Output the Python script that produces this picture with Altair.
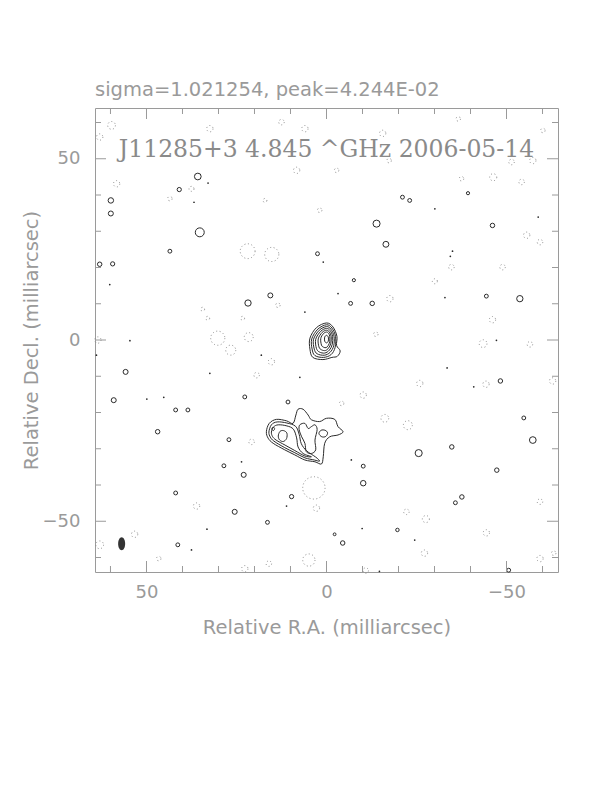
import altair as alt
import pandas as pd

X_DOMAIN = [-64.3, 64.3]
Y_DOMAIN = [-64.0, 64.0]

# core contours (outer -> inner), points as (RA, Dec)
core_c1 = [(0, 4.7), (2.8, 3.4), (4.6, 0.5), (4.6, -2.5), (3.8, -4.8), (1.0, -5.4), (-1.5, -4.8),
           (-3.0, -4.5), (-3.8, -3.0), (-2.8, -1.5), (-2.9, 1.0), (-1.8, 3.6)]
core_c2 = [(0, 4.2), (2.4, 3.0), (4.1, 0.3), (4.0, -2.5), (3.2, -4.3), (0.8, -4.8), (-1.3, -4.0),
           (-2.4, -2.0), (-2.5, 1.0), (-1.5, 3.3)]
core_c3 = [(0, 3.7), (2.0, 2.7), (3.6, 0.2), (3.4, -2.5), (2.6, -3.8), (0.6, -4.2), (-1.0, -3.4),
           (-2.0, -1.6), (-2.1, 1.0), (-1.2, 3.0)]
core_c4 = [(0, 3.2), (1.6, 2.4), (3.0, 0.2), (2.8, -2.3), (2.0, -3.3), (0.5, -3.6), (-0.8, -2.8),
           (-1.6, -1.2), (-1.7, 1.0), (-1.0, 2.6)]
core_c5 = [(0, 2.7), (1.2, 2.1), (2.3, 0.3), (2.1, -1.9), (1.4, -2.7), (0.3, -2.9), (-0.6, -2.2),
           (-1.2, -0.9), (-1.3, 1.0), (-0.8, 2.2)]
core_c6 = [(0, 2.2), (0.9, 1.7), (1.6, 0.4), (1.4, -1.4), (0.8, -2.0), (0.1, -2.1), (-0.5, -1.5),
           (-0.9, -0.4), (-0.9, 1.0), (-0.6, 1.8)]
core_c7 = [(0, 1.3), (0.5, 0.8), (0.5, -0.3), (0, -0.8), (-0.5, -0.3), (-0.5, 0.8)]

# jet component contours
jet_c1 = [(16.7, -25.3), (15.9, -23.0), (13.9, -21.9), (11.1, -22.3), (9.3, -23.0), (8.5, -20.7),
          (7.9, -19.1), (6.5, -19.1), (5.1, -20.7), (4.2, -22.0), (1.9, -22.5), (0.0, -21.6),
          (-2.3, -21.9), (-3.2, -23.9), (-4.6, -25.3), (-3.2, -26.2), (-0.9, -26.7), (0.5, -28.5),
          (0.9, -32.2), (1.4, -34.2), (3.2, -33.6), (6.0, -33.1), (8.8, -31.7), (11.6, -30.3),
          (14.8, -28.5), (16.2, -27.1)]
jet_c2 = [(16.0, -25.4), (15.3, -23.4), (13.7, -22.6), (11.0, -22.9), (8.6, -23.8), (7.6, -26.0),
          (7.0, -28.6), (5.5, -30.6), (3.0, -32.3), (1.9, -33.4), (3.4, -33.1), (6.0, -32.5),
          (8.8, -31.1), (11.6, -29.7), (14.6, -27.9), (15.6, -26.8)]
jet_c3 = [(15.3, -25.4), (14.7, -24.0), (13.4, -23.4), (11.0, -23.7), (9.2, -24.6), (8.3, -27.0),
          (7.9, -29.5), (6.5, -31.3), (4.2, -32.2), (6.0, -32.0), (8.8, -30.5), (11.5, -29.0),
          (14.0, -27.6), (15.0, -26.6)]
jet_knot_a = [(13.4, -26.5), (12.9, -25.2), (11.9, -25.0), (11.0, -25.7), (11.1, -27.2),
              (12.0, -28.0), (13.0, -27.6)]
jet_knot_b = [(15.2, -24.5), (14.8, -24.0), (14.4, -24.5), (14.8, -25.0)]
jet_knot_c = [(7.4, -23.4), (6.0, -23.0), (5.1, -24.4), (4.2, -23.9), (3.2, -23.4), (2.6, -24.7),
              (3.2, -27.6), (3.0, -30.3), (4.2, -31.3), (5.6, -30.8), (6.0, -28.5), (6.9, -26.7),
              (7.6, -24.7)]
jet_knot_d = [(2.1, -25.8), (1.5, -24.9), (0.4, -24.9), (-0.3, -25.6), (0.2, -26.6), (1.3, -26.7)]

contours = {
    "core1": core_c1, "core2": core_c2, "core3": core_c3, "core4": core_c4,
    "core5": core_c5, "core6": core_c6, "core7": core_c7,
    "jet1": jet_c1, "jet2": jet_c2, "jet3": jet_c3,
    "jetA": jet_knot_a, "jetB": jet_knot_b, "jetC": jet_knot_c, "jetD": jet_knot_d,
}

# small positive noise islands (RA, Dec, symbol area)
pos_x = [35.75, 40.9, 59.9, 59.9, 35.2, 43.5, 63.0, 59.4, 21.8, 15.6, 2.5, 55.8, -13.9, -16.5,
         -46.1, -7.6, -6.7, -12.7, -44.4, -53.7, -48.3, -21.1, -23.1, -39.3, 22.7, 10.7, 23.0,
         9.7, -10.2, -10.2, -25.6, 25.5, 16.4, 41.3, -2.25, -4.5, -19.7, -35.8, -50.6, 59.1,
         41.9, 38.5, 46.9, 27.1, 28.5, 41.9, -34.8, -47.3, -57.3, -54.8, -37.6]
pos_y = [45.1, 41.5, 38.5, 34.9, 29.7, 24.5, 20.9, 21.0, 10.2, 12.3, 23.8, -8.8, 32.1, 26.4,
         31.6, 16.5, 10.1, 10.1, 12.1, 11.4, -11.3, 39.4, 38.5, 40.5, -15.7, -17.1, -37.2,
         -43.2, -34.8, -39.5, -31.2, -47.4, -50.3, -56.5, -53.6, -56.0, -52.4, -44.9, -63.5,
         -16.6, -19.3, -19.3, -25.3, -27.5, -34.7, -42.2, -29.5, -35.9, -27.6, -21.5, -43.3]
pos_s = [45, 18, 30, 25, 80, 15, 20, 18, 40, 25, 15, 25, 50, 35, 20, 10, 15, 20, 15, 40, 20, 15,
         15, 10, 15, 15, 25, 18, 15, 30, 50, 25, 15, 15, 8, 20, 12, 15, 15, 25, 15, 15, 20, 15,
         15, 15, 20, 20, 45, 15, 20]

# unresolved tiny positive specks
dot_x = [32.9, 36.8, 60.2, 0.9, 6.0, 63.9, 54.6, 32.4, 7.4, 18.1, -3.2, -35.0, -34.4, -32.9,
         -47.2, -33.5, -40.9, -30.1, -58.8, 23.6, 11.1, -6.9, 37.5, 33.2, -9.9, -24.5, 49.9,
         45.2, -14.7]
dot_y = [43.3, 38.0, 15.3, 21.5, 7.7, -4.2, -0.2, -9.2, -10.3, -4.2, 12.8, 24.5, 23.1, 11.7,
         -0.1, -7.7, -12.9, 36.2, 33.9, -33.6, -45.8, -33.1, -57.9, -52.2, -52.0, -55.2, -16.3,
         -15.8, -63.8]

# negative (dotted) contours
neg_x = [59.7, 63.0, 32.4, 12.5, 6.0, 8.3, 58.3, 37.5, 43.5, 17.1, 1.9, -15.6, -17.4, -2.8,
         -36.6, -37.5, -46.3, -54.2, -51.4, -57.3, -60.1, 21.9, 15.2, 30.2, 26.6, 21.6, 15.3,
         13.5, 19.4, 63.5, 34.4, 33.0, 23.3, -55.6, -59.3, -34.7, -48.9, -30.1, -17.6, -46.1,
         -43.5, -56.5, -13.7, -25.9, -44.3, -62.8, -10.2, -4.2, -16.2, -22.6, 20.8, 3.5, 2.8,
         -22.2, 36.1, 53.3, 63.0, 46.6, 22.7, 16.0, 4.9, -10.9, -27.6, -27.2, -44.4, -59.3,
         -63.1, -59.3]
neg_y = [59.2, 56.0, 58.3, 60.1, 58.3, 46.8, 43.1, 41.7, 39.0, 38.5, 35.8, 57.0, 49.5, 46.8,
         61.0, 44.5, 44.9, 43.6, 49.1, 49.5, 57.8, 24.5, 23.6, 0.5, -2.8, 0.8, -6.0, 9.6, -9.7,
         0.0, 8.5, 6.0, 6.0, 28.9, 27.0, 20.1, 20.1, 16.2, 11.4, 5.6, -1.0, -1.2, 1.6, -12.0,
         -12.2, -11.3, -15.2, -17.5, -21.6, -23.5, -28.1, -40.8, -46.4, -47.4, -45.8, -53.6,
         -56.5, -60.3, -63.1, -61.7, -60.7, -63.6, -49.4, -58.8, -53.2, -60.3, -58.8, -44.6]
neg_s = [60, 40, 40, 30, 40, 40, 40, 25, 20, 15, 20, 40, 20, 20, 20, 20, 50, 30, 30, 40, 20,
         220, 200, 200, 100, 80, 40, 20, 30, 40, 15, 15, 15, 40, 30, 30, 30, 25, 40, 40, 60,
         30, 20, 40, 40, 40, 40, 20, 60, 80, 30, 500, 40, 30, 40, 40, 60, 20, 40, 30, 150, 30,
         50, 40, 40, 40, 20, 30]

# restoring beam (lower-left corner)
beam_x = [56.9]
beam_y = [-56.2]

# ticks
tick_values = [60, 50, 40, 30, 20, 10, 0, -10, -20, -30, -40, -50, -60]
major_ticks = [50, 0, -50]
label_values = [50, 0, -50]

title_text = "sigma=1.021254, peak=4.244E-02"
inner_text = "J11285+3 4.845 ^GHz 2006-05-14"
inner_pos = (0.0, 52.3)

# ---------------- tables ----------------
rows = []
for cid, pts in contours.items():
    for i, (x, y) in enumerate(pts):
        rows.append({"cid": cid, "i": i, "x": x, "y": y})
contour_df = pd.DataFrame(rows)
pos_df = pd.DataFrame({"x": pos_x, "y": pos_y, "s": pos_s})
dot_df = pd.DataFrame({"x": dot_x, "y": dot_y})
neg_df = pd.DataFrame({"x": neg_x, "y": neg_y, "s": neg_s})
beam_df = pd.DataFrame({"x": beam_x, "y": beam_y})
text_df = pd.DataFrame({"x": [inner_pos[0]], "y": [inner_pos[1]], "t": [inner_text]})

GRAY = "#9a9a9a"
INK = "#2a2a2a"
xmin, xmax = X_DOMAIN
ymin, ymax = Y_DOMAIN
px_x = (xmax - xmin) / 463.0
px_y = (ymax - ymin) / 464.0
tick_rows = []
for v in tick_values:
    L = 11 if v in major_ticks else 6
    tick_rows.append({"x": v, "x2": v, "y": ymin, "y2": ymin + L * px_y})
    tick_rows.append({"x": v, "x2": v, "y": ymax, "y2": ymax - L * px_y})
    tick_rows.append({"x": xmax, "x2": xmax - L * px_x, "y": v, "y2": v})
    tick_rows.append({"x": xmin, "x2": xmin + L * px_x, "y": v, "y2": v})
tick_df = pd.DataFrame(tick_rows)

# ---------------- encodings ----------------
FONT = "DejaVu Sans"
xenc = alt.X("x:Q", scale=alt.Scale(domain=X_DOMAIN, reverse=True, nice=False, zero=False),
             axis=alt.Axis(values=label_values, title="Relative R.A. (milliarcsec)", ticks=False,
                           tickSize=0, domain=False, grid=False, labelFont=FONT, labelFontSize=18,
                           labelColor=GRAY, labelPadding=11, titleFont=FONT, titleFontSize=19.5,
                           titleColor=GRAY, titleFontWeight="normal", titleY=61,
                           titleBaseline="alphabetic"))
yenc = alt.Y("y:Q", scale=alt.Scale(domain=Y_DOMAIN, nice=False, zero=False),
             axis=alt.Axis(values=label_values, title="Relative Decl. (milliarcsec)", ticks=False,
                           tickSize=0, domain=False, grid=False, labelFont=FONT, labelFontSize=18,
                           labelColor=GRAY, labelPadding=15, titleFont=FONT, titleFontSize=19.5,
                           titleColor=GRAY, titleFontWeight="normal", titleX=-58, titleY=232,
                           titleBaseline="alphabetic"))

lines = alt.Chart(contour_df).mark_line(interpolate="cardinal-closed", color=INK,
                                        strokeWidth=1).encode(
    x=xenc, y=yenc, detail="cid:N", order="i:Q")

pos = alt.Chart(pos_df).mark_point(shape="circle", filled=False, color=INK,
                                   strokeWidth=1, opacity=1).encode(
    x=xenc, y=yenc, size=alt.Size("s:Q", scale=None, legend=None))

dots = alt.Chart(dot_df).mark_point(shape="circle", filled=True, color=INK, size=3,
                                    opacity=1).encode(x=xenc, y=yenc)

neg = alt.Chart(neg_df).mark_point(shape="circle", filled=False, color="#8a8a8a",
                                   strokeWidth=1, strokeDash=[1, 2.5], opacity=1).encode(
    x=xenc, y=yenc, size=alt.Size("s:Q", scale=None, legend=None))

beam = alt.Chart(beam_df).mark_point(
    shape="M0,-1 A0.54,1 0 1,1 0,1 A0.54,1 0 1,1 0,-1 Z",
    filled=True, color="#333333", size=169, opacity=1).encode(x=xenc, y=yenc)

ticks = alt.Chart(tick_df).mark_rule(color=GRAY, strokeWidth=1).encode(
    x=xenc, x2="x2:Q", y=yenc, y2="y2:Q")

inner = alt.Chart(text_df).mark_text(font="DejaVu Serif", fontSize=23.5, color="#8a8a8a",
                                     align="center", baseline="middle").encode(
    x=xenc, y=yenc, text="t:N")

chart = alt.layer(neg, dots, pos, lines, beam, ticks, inner).properties(
    width=463, height=464,
    autosize=alt.AutoSizeParams(type="none"),
    padding={"left": 87, "top": 100, "right": 20, "bottom": 100},
    title=alt.TitleParams(title_text, anchor="start", frame="group", font=FONT, fontSize=19.5,
                          fontWeight="normal", color=GRAY, offset=7),
).configure_view(stroke=GRAY, strokeWidth=1)

chart.save("out.html", embed_options={"renderer": "svg", "actions": False})
